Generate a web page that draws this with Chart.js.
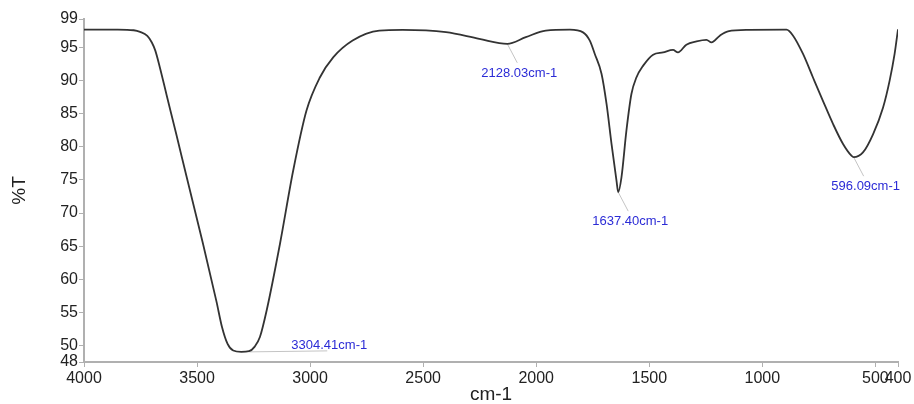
<!DOCTYPE html>
<html>
<head>
<meta charset="utf-8">
<script src="https://cdn.jsdelivr.net/npm/chart.js@4.4.1/dist/chart.umd.min.js"></script>
<style>
  html, body { margin: 0; padding: 0; background: #fff; }
  #wrap { width: 914px; height: 404px; }
</style>
</head>
<body>
<div id="wrap"><canvas id="ftir" width="914" height="404"></canvas></div>
<script>
// FTIR spectrum (cm-1 vs %T)
var wavenumbers = [4000, 3850, 3780, 3752, 3720, 3700, 3685, 3665, 3635, 3591, 3547, 3474, 3414, 3390, 3365, 3340,
    3304.41, 3270, 3245, 3222, 3192, 3133, 3075, 3016, 2957, 2898, 2812, 2694, 2591, 2399, 2252, 2128.03, 2046, 1958,
    1851, 1793, 1763, 1741, 1711, 1689, 1667, 1645, 1637.40, 1623, 1601, 1579, 1557, 1527, 1483, 1439, 1395, 1373, 1336,
    1291, 1247, 1225, 1188, 1152, 1061, 893, 864, 820, 776, 732, 687, 643, 606, 596.09, 555, 510, 466, 437, 415, 400];
var transmittance = [97.75, 97.75, 97.65, 97.4, 96.8, 95.8, 94.6, 92.1, 87.9, 81.8, 75.6, 65.4, 56.6, 52.8, 50.2, 49.2,
    49.0, 49.1, 49.8, 51.25, 55.3, 65.4, 76.4, 85.5, 90.5, 93.55, 96.1, 97.6, 97.7, 97.35, 96.35, 95.6, 96.6, 97.6,
    97.73, 97.33, 96.07, 94.06, 91.04, 86.5, 80.47, 74.9, 73.16, 75.4, 82.5, 88.0, 90.5, 92.3, 93.96, 94.3, 94.67, 94.3,
    95.47, 95.97, 96.2, 95.8, 96.83, 97.48, 97.7, 97.73, 96.83, 94.06, 90.5, 86.97, 83.45, 80.44, 78.67, 78.45, 79.17,
    81.95, 85.97, 90.03, 94.06, 97.8];

var peakWn = [3304.41, 2128.03, 1637.40, 596.09];
var peakT = [49.0, 95.6, 73.16, 78.45];
var peakLabels = ['3304.41cm-1', '2128.03cm-1', '1637.40cm-1', '596.09cm-1'];

var xTicks = [4000, 3500, 3000, 2500, 2000, 1500, 1000, 500, 400];
var yTicks = [47.47, 50, 55, 60, 65, 70, 75, 80, 85, 90, 95, 99.35];
var yTickLabels = ['48', '50', '55', '60', '65', '70', '75', '80', '85', '90', '95', '99'];

var FONT = "'Liberation Sans', Arial, sans-serif";

var peakLabelPlugin = {
    id: 'peakLabels',
    beforeDatasetsDraw: function (chart) {
        var ctx = chart.ctx, xs = chart.scales.x, ys = chart.scales.y;
        ctx.save();
        ctx.strokeStyle = '#c4c4c4';
        ctx.lineWidth = 1;
        peakWn.forEach(function (wn, i) {
            var px = xs.getPixelForValue(wn), py = ys.getPixelForValue(peakT[i]);
            ctx.beginPath();
            if (i === 0) {
                ctx.moveTo(px + 8, py);
                ctx.lineTo(px + 86, py - 1);
            } else {
                ctx.moveTo(px, py);
                ctx.lineTo(px + 10, py + 19);
            }
            ctx.stroke();
        });
        ctx.restore();
    },
    afterDatasetsDraw: function (chart) {
        var ctx = chart.ctx, xs = chart.scales.x, ys = chart.scales.y;
        ctx.save();
        ctx.fillStyle = '#2b2bd6';
        ctx.font = '13px ' + FONT;
        ctx.textAlign = 'center';
        ctx.textBaseline = 'alphabetic';
        peakWn.forEach(function (wn, i) {
            var px = xs.getPixelForValue(wn), py = ys.getPixelForValue(peakT[i]);
            if (i === 0) {
                ctx.fillText(peakLabels[i], px + 88, py - 3);
            } else {
                ctx.fillText(peakLabels[i], px + 12, py + 33);
            }
        });
        ctx.restore();
    }
};

new Chart(document.getElementById('ftir'), {
    type: 'line',
    data: {
        datasets: [
            {
                label: '%T',
                data: wavenumbers.map(function (w, i) { return { x: w, y: transmittance[i] }; }),
                borderColor: '#333333',
                borderWidth: 1.8,
                pointRadius: 0,
                fill: false,
                cubicInterpolationMode: 'monotone'
            }
        ]
    },
    options: {
        responsive: false,
        animation: false,
        events: [],
        layout: { padding: { left: 0, right: 16, top: 19, bottom: 0 } },
        plugins: {
            legend: { display: false },
            tooltip: { enabled: false }
        },
        scales: {
            x: {
                type: 'linear',
                reverse: true,
                min: 400,
                max: 4000,
                afterBuildTicks: function (scale) {
                    scale.ticks = xTicks.map(function (v) { return { value: v }; });
                },
                afterFit: function (scale) { scale.height = 42; },
                grid: { drawOnChartArea: false, drawTicks: true, tickLength: 5, color: '#b0b0b0' },
                border: { display: true, color: '#b0b0b0', width: 2 },
                ticks: {
                    autoSkip: false,
                    maxRotation: 0,
                    padding: 2,
                    color: '#222',
                    font: { family: FONT, size: 16 },
                    callback: function (v) { return String(v); }
                },
                title: {
                    display: true,
                    text: 'cm-1',
                    color: '#222',
                    font: { family: FONT, size: 19, lineHeight: 1 },
                    padding: { top: 0, bottom: 0 }
                }
            },
            y: {
                min: 47.47,
                max: 99.35,
                afterBuildTicks: function (scale) {
                    scale.ticks = yTicks.map(function (v) { return { value: v }; });
                },
                afterFit: function (scale) { scale.width = 84; },
                grid: { drawOnChartArea: false, drawTicks: true, tickLength: 5, color: '#b0b0b0' },
                border: { display: true, color: '#b0b0b0', width: 2 },
                ticks: {
                    padding: 1,
                    color: '#222',
                    font: { family: FONT, size: 16 },
                    callback: function (v, i) { return yTickLabels[i]; }
                },
                title: {
                    display: true,
                    text: '%T',
                    color: '#222',
                    font: { family: FONT, size: 19, lineHeight: 1 },
                    padding: { top: 10, bottom: 0 }
                }
            }
        }
    },
    plugins: [peakLabelPlugin]
});
</script>
</body>
</html>
